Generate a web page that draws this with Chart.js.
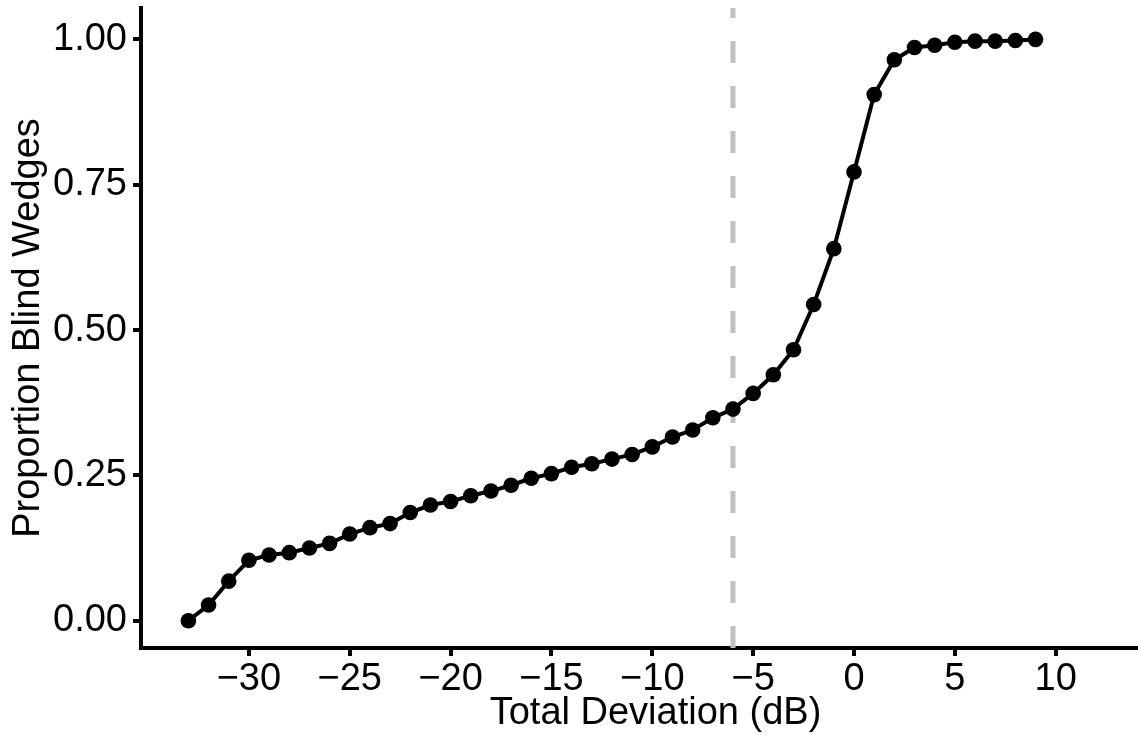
<!DOCTYPE html>
<html>
<head>
<meta charset="utf-8">
<script src="https://cdn.jsdelivr.net/npm/chart.js@4/dist/chart.umd.min.js"></script>
<style>
  html, body { margin: 0; padding: 0; background: #fff; }
  #wrap { width: 1138px; height: 738px; }
</style>
</head>
<body>
<div id="wrap"><canvas id="chart" width="1138" height="738"></canvas></div>
<script>
// data
const deviation = [-33, -32, -31, -30, -29, -28, -27, -26, -25, -24, -23, -22, -21, -20,
  -19, -18, -17, -16, -15, -14, -13, -12, -11, -10, -9, -8, -7, -6, -5, -4, -3, -2, -1,
  0, 1, 2, 3, 4, 5, 6, 7, 8, 9];
const proportionBlind = [0.000, 0.027, 0.068, 0.104, 0.113, 0.117, 0.125, 0.133, 0.149,
  0.160, 0.167, 0.186, 0.199, 0.205, 0.215, 0.223, 0.233, 0.245, 0.253, 0.264, 0.270,
  0.278, 0.286, 0.299, 0.316, 0.328, 0.349, 0.364, 0.391, 0.423, 0.466, 0.544, 0.640,
  0.772, 0.905, 0.965, 0.986, 0.990, 0.995, 0.997, 0.997, 0.998, 1.000];

const cutoff = -6; // dashed reference line
const xTicks = [-30, -25, -20, -15, -10, -5, 0, 5, 10];
const yTicks = [0, 0.25, 0.5, 0.75, 1];
const xRange = [-35.35, 14.08];
const yRange = [-0.047, 1.054];
const xTitle = 'Total Deviation (dB)';
const yTitle = 'Proportion Blind Wedges';

const points = deviation.map((d, i) => ({ x: d, y: proportionBlind[i] }));
const cutoffLine = [{ x: cutoff, y: yRange[1] }, { x: cutoff, y: yRange[0] }];

const fontFamily = "'Liberation Sans', Arial, Helvetica, sans-serif";
const font = { family: fontFamily, size: 38, lineHeight: 1 };

// no extra room for half tick labels, the panel edges are fixed
function noLabelPadding(s) {
  s.paddingTop = 0;
  s.paddingBottom = 0;
  s.paddingLeft = 0;
  s.paddingRight = 0;
}

// the original panel was cut on the right, so its x title sits right of centre
const xTitlePlugin = {
  id: 'xTitle',
  afterDraw(chart) {
    const { ctx, chartArea } = chart;
    ctx.save();
    ctx.font = font.size + 'px ' + fontFamily;
    ctx.fillStyle = '#000';
    ctx.textAlign = 'center';
    ctx.textBaseline = 'middle';
    ctx.fillText(xTitle, (chartArea.left + chartArea.right) / 2 + 16, chart.height - 24);
    ctx.restore();
  }
};

new Chart(document.getElementById('chart'), {
  type: 'scatter',
  data: {
    datasets: [
      {
        data: points,
        showLine: true,
        borderColor: '#000',
        borderWidth: 4,
        tension: 0,
        pointRadius: 7.8,
        pointBackgroundColor: '#000',
        pointBorderWidth: 0
      },
      {
        data: cutoffLine,
        showLine: true,
        borderColor: '#c0c0c0',
        borderWidth: 5,
        borderDash: [22, 23],
        borderDashOffset: 12,
        pointRadius: 0
      }
    ]
  },
  plugins: [xTitlePlugin],
  options: {
    responsive: false,
    animation: false,
    layout: { padding: { top: 8, left: 0, right: 0, bottom: 0 }, autoPadding: false },
    plugins: { legend: { display: false }, tooltip: { enabled: false } },
    scales: {
      x: {
        type: 'linear',
        min: xRange[0],
        max: xRange[1],
        afterBuildTicks: s => { s.ticks = xTicks.map(v => ({ value: v })); },
        afterFit: s => { s.height = 90; noLabelPadding(s); },
        grid: { drawOnChartArea: false, color: '#000', lineWidth: 4, tickLength: 8 },
        border: { display: true, color: '#000', width: 4 },
        ticks: {
          color: '#000', font: font, padding: 5, maxRotation: 0,
          callback: v => String(v).replace('-', '\u2212')
        },
        title: { display: false }
      },
      y: {
        type: 'linear',
        min: yRange[0],
        max: yRange[1],
        afterBuildTicks: s => { s.ticks = yTicks.map(v => ({ value: v })); },
        afterFit: s => { s.width = 141; noLabelPadding(s); },
        grid: { drawOnChartArea: false, color: '#000', lineWidth: 4, tickLength: 8 },
        border: { display: true, color: '#000', width: 4 },
        ticks: { color: '#000', font: font, padding: 6, callback: v => v.toFixed(2) },
        title: { display: true, text: yTitle, color: '#000', font: font, padding: { top: 10, bottom: 0 } }
      }
    }
  }
});
</script>
</body>
</html>
